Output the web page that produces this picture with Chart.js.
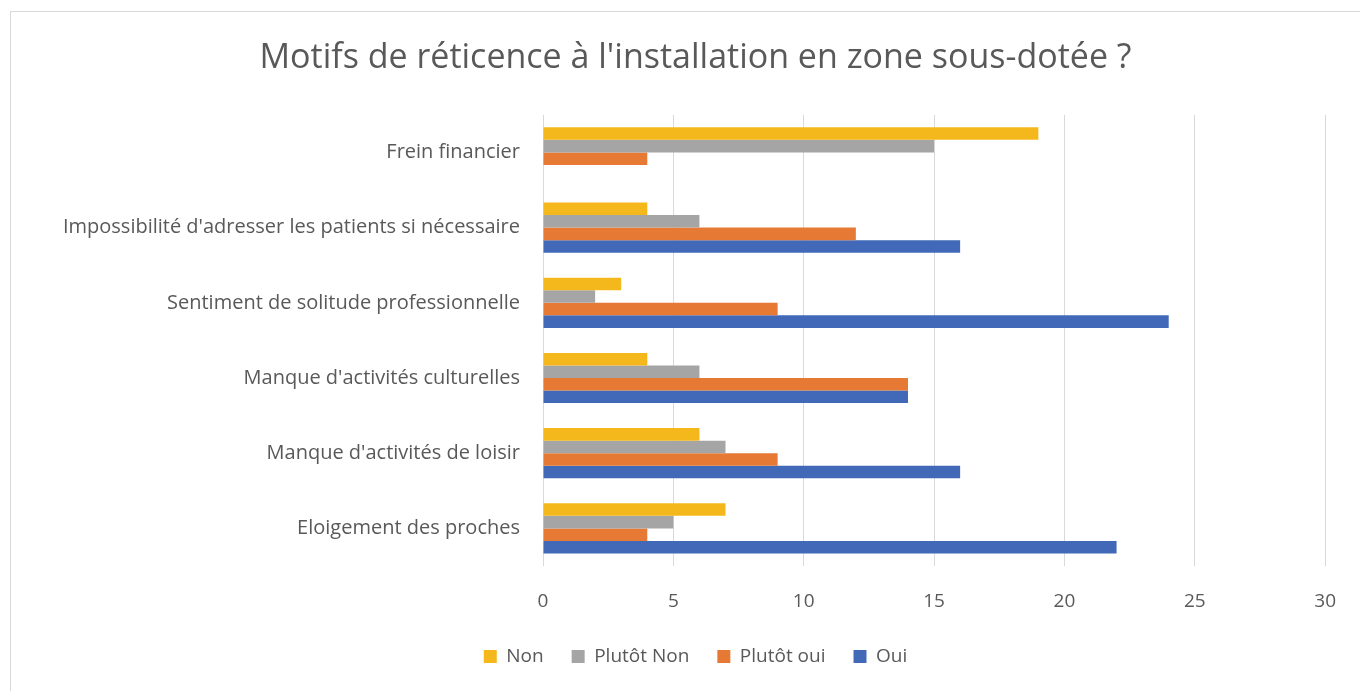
<!DOCTYPE html>
<html>
<head>
<meta charset="utf-8">
<script src="https://cdn.jsdelivr.net/npm/chart.js@4"></script>
<style>
  html, body { margin: 0; padding: 0; background: #fff; }
  #frame { position: absolute; left: 10px; top: 11px; width: 1400px; height: 700px; border: 1px solid #d9d9d9; }
  #wrap { position: absolute; left: 0; top: 0; width: 1360px; height: 691px; }
</style>
</head>
<body>
<div id="frame"></div>
<div id="wrap"><canvas id="motifsChart" width="1360" height="691"></canvas></div>
<script>
const categories = [
    'Frein financier',
    "Impossibilité d'adresser les patients si nécessaire",
    'Sentiment de solitude professionnelle',
    "Manque d'activités culturelles",
    "Manque d'activités de loisir",
    'Eloigement des proches'
];
const nonValues = [19, 4, 3, 4, 6, 7];
const plutotNonValues = [15, 6, 2, 6, 7, 5];
const plutotOuiValues = [4, 12, 9, 14, 9, 4];
const ouiValues = [0, 16, 24, 14, 16, 22];
const xTicks = [0, 5, 10, 15, 20, 25, 30];

const textColor = '#595959';
const fontFamily = "'Open Sans', 'Noto Sans', sans-serif";

// les quatre séries, dans l'ordre de la légende
const datasets = [
    { label: 'Non', data: nonValues, backgroundColor: '#F5B81C' },
    { label: 'Plutôt Non', data: plutotNonValues, backgroundColor: '#A5A5A5' },
    { label: 'Plutôt oui', data: plutotOuiValues, backgroundColor: '#E67A35' },
    { label: 'Oui', data: ouiValues, backgroundColor: '#4169B8' }
];

const ctx = document.getElementById('motifsChart').getContext('2d');

const motifsChart = new Chart(ctx, {
    type: 'bar',
    data: { labels: categories, datasets: datasets },
    options: {
        responsive: false,
        animation: false,
        indexAxis: 'y',
        categoryPercentage: 0.667,
        barPercentage: 1,
        layout: { padding: { left: 64, right: 33, top: 0, bottom: 15 } },
        plugins: {
            title: {
                display: true,
                text: "Motifs de réticence à l'installation en zone sous-dotée ?",
                color: textColor,
                font: { family: fontFamily, size: 34, weight: 'normal' },
                padding: { top: 38, bottom: 36 }
            },
            legend: {
                position: 'bottom',
                labels: {
                    color: textColor,
                    font: { family: fontFamily, size: 19 },
                    boxWidth: 13,
                    boxHeight: 13,
                    padding: 28
                }
            },
            tooltip: { enabled: false }
        },
        scales: {
            x: {
                min: 0,
                max: 30,
                afterBuildTicks: (scale) => { scale.ticks = xTicks.map(v => ({ value: v })); },
                afterFit: (scale) => { scale.height = 53; },
                grid: { color: '#d9d9d9', drawTicks: false },
                border: { display: false },
                ticks: { color: textColor, font: { family: fontFamily, size: 19 }, padding: 24 }
            },
            y: {
                afterFit: (scale) => { scale.width = 479; },
                grid: { display: false, drawTicks: false },
                border: { display: false },
                ticks: { color: textColor, font: { family: fontFamily, size: 20 }, padding: 23 }
            }
        }
    }
});
</script>
</body>
</html>
